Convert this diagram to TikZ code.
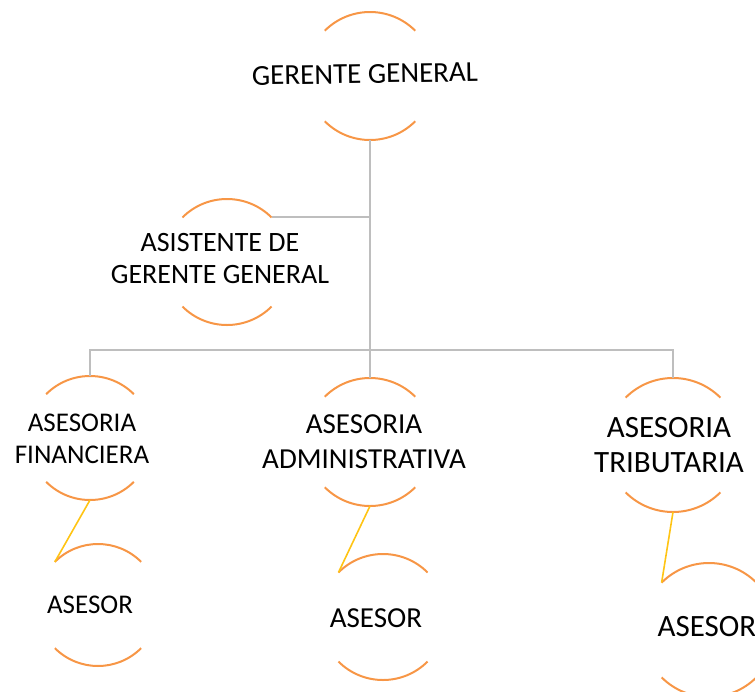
\documentclass[tikz,border=0pt]{standalone}
\usepackage{fontspec}
\setmainfont{Carlito}
\definecolor{rimorange}{RGB}{247,150,70}
\definecolor{linkgray}{RGB}{190,190,190}
\definecolor{linkyellow}{RGB}{255,196,20}
\newcommand{\rims}[2]{\draw[rim] (#1.45) arc[start angle=45,end angle=135,radius=#2pt] (#1.225) arc[start angle=225,end angle=315,radius=#2pt];}
\tikzset{
  bubble/.style={circle, inner sep=0pt, outer sep=0pt, minimum size=2*#1},
  rim/.style={draw=rimorange, line width=2pt},
  txt/.style 2 args={align=center, inner sep=0pt, font=\fontsize{#1}{#2}\selectfont},
  trunk/.style={draw=linkgray, line width=2pt},
  tie/.style={draw=linkyellow, line width=1.6pt}
}
\begin{document}
\begin{tikzpicture}[x=1pt,y=-1pt]
\useasboundingbox (0,0) rectangle (755,691);
\node[bubble=64] (gg) at (370,76) {};
\node[bubble=63] (asis) at (227,262) {};
\node[bubble=62] (fin) at (90,438) {};
\node[bubble=64] (adm) at (370,442) {};
\node[bubble=67] (trib) at (673,445) {};
\node[bubble=61] (as1) at (98,605) {};
\node[bubble=63] (as2) at (383,617) {};
\node[bubble=67] (as3) at (709,630) {};
\foreach \n/\r in {gg/64,asis/63,fin/62,adm/64,trib/67,as1/61,as2/63,as3/67} {\rims{\n}{\r}}
\coordinate (bus) at (370,350);
\draw[trunk] (gg.south) -- (adm.north);
\draw[trunk] (asis.45) -- (asis.45 -| gg.south);
\draw[trunk] (fin.north) |- (bus) -| (trib.north);
\draw[tie] (fin.south) -- (as1.135);
\draw[tie] (adm.south) -- (as2.135);
\draw[tie] (trib.south) -- (as3.135);
\node[txt={29}{35}, rotate=1] (gg-t) at (365,74) {GERENTE GENERAL};
\node[txt={28}{32}] (asis-t) at (220,259) {ASISTENTE DE\\GERENTE GENERAL};
\node[txt={27}{32}] (fin-t) at (82,439) {ASESORIA\\FINANCIERA};
\node[txt={29}{35}] (adm-t) at (364,442) {ASESORIA\\ADMINISTRATIVA};
\node[txt={31}{35}] (trib-t) at (669,445) {ASESORIA\\TRIBUTARIA};
\node[txt={27}{32}] (as1-t) at (90,605) {ASESOR};
\node[txt={29}{35}] (as2-t) at (376,618) {ASESOR};
\node[txt={31}{35}] (as3-t) at (707,627) {ASESOR};
\end{tikzpicture}
\end{document}
